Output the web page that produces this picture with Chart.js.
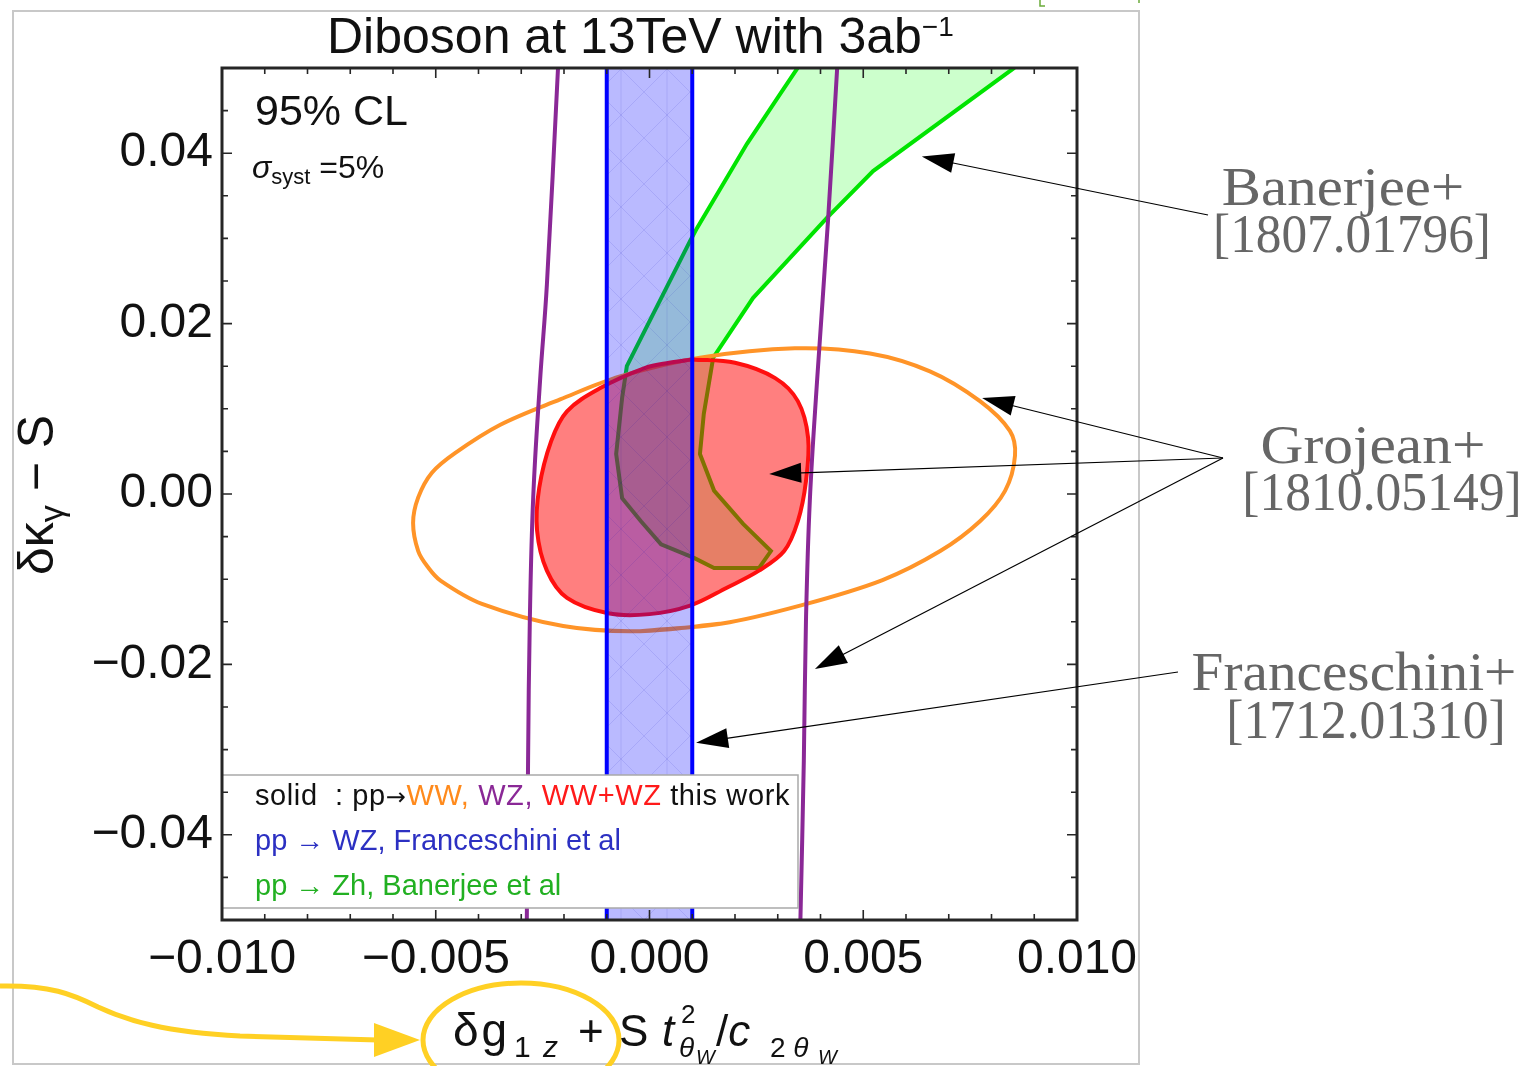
<!DOCTYPE html>
<html><head><meta charset="utf-8">
<script src="https://cdn.jsdelivr.net/npm/chart.js@4.4.1/dist/chart.umd.min.js"></script>
<style>
html,body{margin:0;padding:0;background:#fff;overflow:hidden}
#wrap{position:relative;width:1525px;height:1066px;overflow:hidden;background:#fff}
#c{position:absolute;left:0;top:0}
.t{position:absolute;white-space:nowrap;line-height:1;color:#111}
#frame{position:absolute;left:12px;top:10px;width:1124px;height:1051px;border:2px solid #c8c8c8}
svg{position:absolute;left:0;top:0}
</style></head><body>
<div id="wrap">
<div id="frame"></div>
<canvas id="c" width="1525" height="1066"></canvas>
<svg width="1525" height="1066">
  <path d="M1040,0 V6 H1045" fill="none" stroke="#6aaa3a" stroke-width="1.5"/>
  <path d="M1139,0 V3" fill="none" stroke="#6aaa3a" stroke-width="1.5"/>
  <path d="M0,986 C50,985 72,994 98,1007 C128,1021 165,1032 240,1036 L378,1040" fill="none" stroke="#ffd024" stroke-width="5"/>
  <polygon points="374,1023 374,1057 420,1040" fill="#ffd024"/>
  <ellipse cx="521" cy="1040" rx="98" ry="57" fill="none" stroke="#ffd024" stroke-width="5"/>
</svg>
</div>
<script>
// ---------- tick labels ----------
const xTickValues = [-0.010, -0.005, 0.000, 0.005, 0.010];
const xTickLabels = ['\u22120.010', '\u22120.005', '0.000', '0.005', '0.010'];
const yTickValues = [-0.04, -0.02, 0.00, 0.02, 0.04];
const yTickLabels = ['\u22120.04', '\u22120.02', '0.00', '0.02', '0.04'];

// ---------- pp -> WW (orange, this work) ----------
const wwX = [-0.00022, 0.00170, 0.00352, 0.00545, 0.00680, 0.00773, 0.00832, 0.00855, 0.00843, 0.00773, 0.00656, 0.00516, 0.00340, 0.00118, -0.00069, -0.00209, -0.00350, -0.00455, -0.00509, -0.00541, -0.00553, -0.00541, -0.00518, -0.00488, -0.00392, -0.00202];
const wwY = [-0.0161, -0.0152, -0.0131, -0.0101, -0.0067, -0.0032, 0.0004, 0.0045, 0.0074, 0.0109, 0.0144, 0.0165, 0.0171, 0.0160, 0.0138, 0.0111, 0.0081, 0.0048, 0.0025, -0.0004, -0.0034, -0.0067, -0.0086, -0.0102, -0.0129, -0.0155];

// ---------- pp -> WW+WZ (red, this work) ----------
const wwwzX = [0.00100, 0.00200, 0.00294, 0.00347, 0.00371, 0.00366, 0.00347, 0.00315, 0.00256, 0.00181, 0.00095, 0.00000, -0.00097, -0.00193, -0.00240, -0.00263, -0.00258, -0.00230, -0.00193, -0.00116, -0.00010, 0.00046];
const wwwzY = [0.0158, 0.0154, 0.0136, 0.0109, 0.0066, 0.0015, -0.0032, -0.0067, -0.0090, -0.0110, -0.0131, -0.0141, -0.0140, -0.0122, -0.0090, -0.0043, 0.0007, 0.0062, 0.0097, 0.0124, 0.0148, 0.0154];

// ---------- pp -> WZ (purple, this work): two boundary lines ----------
const wzLeftX  = [-0.00214, -0.00240, -0.00256, -0.00272, -0.00280, -0.00284, -0.00287];
const wzLeftY  = [0.0500, 0.0246, 0.0133, -0.0004, -0.0150, -0.0311, -0.0500];
const wzRightX = [0.00439, 0.00418, 0.00392, 0.00375, 0.00366, 0.00361, 0.00353];
const wzRightY = [0.0500, 0.0324, 0.0133, -0.0008, -0.0149, -0.0313, -0.0500];

// ---------- pp -> WZ, Franceschini et al (blue band) ----------
const francLow = -0.0010;
const francHigh = 0.0010;

// ---------- pp -> Zh, Banerjee et al (green region) ----------
const zhX = [0.00371, 0.00345, 0.00305, 0.00228, 0.00111, 0.00095, -0.00053, -0.00064, -0.00078, -0.00064, -0.00020, 0.00027, 0.00104, 0.00151, 0.00256, 0.00284, 0.00219, 0.00151, 0.00118, 0.00127, 0.00149, 0.00242, 0.00415, 0.00523, 0.00850, 0.00902];
const zhY = [0.0520, 0.0499, 0.0469, 0.0411, 0.0312, 0.0297, 0.0150, 0.0113, 0.0047, -0.0005, -0.0032, -0.0059, -0.0075, -0.0087, -0.0087, -0.0067, -0.0035, 0.0004, 0.0047, 0.0094, 0.0160, 0.0230, 0.0324, 0.0379, 0.0499, 0.0520];

const yMin = -0.05, yMax = 0.05, xMin = -0.01, xMax = 0.01;

function pts(xs, ys, close) {
  const p = xs.map((x, i) => ({x, y: ys[i]}));
  if (close) p.push({x: xs[0], y: ys[0]});
  return p;
}
// closed smooth loop: overlap the first segment so the seam gets proper tangents
function loopPts(xs, ys) {
  const p = xs.map((x, i) => ({x, y: ys[i]}));
  p.push({x: xs[0], y: ys[0]}, {x: xs[1], y: ys[1]});
  return p;
}

function bandPattern() {
  const c = document.createElement('canvas'); c.width = 46; c.height = 46;
  const g = c.getContext('2d');
  g.fillStyle = 'rgba(0,0,255,0.27)'; g.fillRect(0, 0, 46, 46);
  g.strokeStyle = 'rgba(0,0,190,0.10)'; g.lineWidth = 1;
  g.beginPath();
  g.moveTo(0, 0); g.lineTo(46, 46); g.moveTo(46, 0); g.lineTo(0, 46);
  g.moveTo(23, 0); g.lineTo(23, 46);
  g.stroke();
  return g.createPattern(c, 'repeat');
}

// arrow annotations: tip in data coordinates, tail in page pixels
const arrowTipsX = [0.00637, 0.00778, 0.00280, 0.00387, 0.00109];
const arrowTipsY = [0.0396, 0.01126, 0.00235, -0.02053, -0.0292];
const arrowTails = [[1208, 215], [1223, 458], [1223, 458], [1223, 458], [1178, 672]];

const framePlugin = {
  id: 'framePlugin',
  afterDatasetsDraw(chart) {
    const {ctx, chartArea: a, scales: {x, y}} = chart;
    ctx.save();
    // legend box
    ctx.fillStyle = '#ffffff';
    ctx.fillRect(a.left, 775, 798 - a.left, 133);
    ctx.strokeStyle = '#a9a9a9'; ctx.lineWidth = 1.5;
    ctx.strokeRect(a.left, 775, 798 - a.left, 133);
    // frame
    ctx.strokeStyle = '#262626'; ctx.lineWidth = 3;
    ctx.strokeRect(a.left, a.top, a.right - a.left, a.bottom - a.top);
    // ticks
    ctx.lineWidth = 1.6;
    ctx.beginPath();
    for (let i = -10; i <= 10; i++) {
      const px = x.getPixelForValue(i * 0.001);
      const len = (i % 5 === 0) ? 10 : 6;
      ctx.moveTo(px, a.bottom); ctx.lineTo(px, a.bottom - len);
      ctx.moveTo(px, a.top); ctx.lineTo(px, a.top + len);
    }
    for (let i = -10; i <= 10; i++) {
      const py = y.getPixelForValue(i * 0.005);
      const len = (i % 4 === 0) ? 10 : 6;
      ctx.moveTo(a.left, py); ctx.lineTo(a.left + len, py);
      ctx.moveTo(a.right, py); ctx.lineTo(a.right - len, py);
    }
    ctx.stroke();
    ctx.restore();
  },
  afterDraw(chart) {
    const {ctx, scales: {x, y}} = chart;
    ctx.save();
    ctx.strokeStyle = '#000'; ctx.fillStyle = '#000'; ctx.lineWidth = 1.2;
    arrowTipsX.forEach((tx, i) => {
      const px = x.getPixelForValue(tx), py = y.getPixelForValue(arrowTipsY[i]);
      const [sx, sy] = arrowTails[i];
      const dx = px - sx, dy = py - sy, L = Math.hypot(dx, dy);
      const ux = dx / L, uy = dy / L, nx = -uy, ny = ux;
      const hl = 32, hw = 10;
      ctx.beginPath(); ctx.moveTo(sx, sy); ctx.lineTo(px - ux * hl * 0.8, py - uy * hl * 0.8); ctx.stroke();
      ctx.beginPath();
      ctx.moveTo(px, py);
      ctx.lineTo(px - ux * hl + nx * hw, py - uy * hl + ny * hw);
      ctx.lineTo(px - ux * hl - nx * hw, py - uy * hl - ny * hw);
      ctx.closePath(); ctx.fill();
    });
    ctx.restore();
  }
};

const tickFont = {family: '"Liberation Sans", Arial, sans-serif', size: 48};

new Chart(document.getElementById('c'), {
  type: 'scatter',
  data: {
    datasets: [
      { label: 'pp→Zh, Banerjee et al', data: pts(zhX, zhY, true), showLine: true, order: 10,
        borderColor: 'rgb(0,228,0)', borderWidth: 4, backgroundColor: 'rgba(0,255,0,0.2)', fill: 'shape', tension: 0, pointRadius: 0 },
      { label: 'pp→WW', data: loopPts(wwX, wwY), showLine: true, order: 8,
        borderColor: 'rgb(255,148,40)', borderWidth: 4, fill: false, tension: 0.35, pointRadius: 0 },
      { label: 'pp→WW+WZ', data: pts(wwwzX, wwwzY, true), showLine: true, order: 6,
        borderColor: 'rgb(255,15,15)', borderWidth: 4, backgroundColor: 'rgba(255,0,0,0.5)', fill: 'shape', tension: 0.35, pointRadius: 0 },
      { label: 'pp→WZ, Franceschini et al (band)', data: [{x: francLow, y: yMin}, {x: francLow, y: yMax}, {x: francHigh, y: yMax}, {x: francHigh, y: yMin}, {x: francLow, y: yMin}],
        showLine: true, order: 5, borderWidth: 0, borderColor: 'rgba(0,0,0,0)', backgroundColor: bandPattern(), fill: 'shape', tension: 0, pointRadius: 0 },
      { label: 'band low', data: [{x: francLow, y: yMin}, {x: francLow, y: yMax}], showLine: true, order: 4,
        borderColor: 'rgb(0,0,255)', borderWidth: 4, fill: false, pointRadius: 0 },
      { label: 'band high', data: [{x: francHigh, y: yMin}, {x: francHigh, y: yMax}], showLine: true, order: 4,
        borderColor: 'rgb(0,0,255)', borderWidth: 4, fill: false, pointRadius: 0 },
      { label: 'pp→WZ left', data: pts(wzLeftX, wzLeftY, false), showLine: true, order: 2,
        borderColor: 'rgb(138,40,150)', borderWidth: 4, fill: false, tension: 0.4, pointRadius: 0 },
      { label: 'pp→WZ right', data: pts(wzRightX, wzRightY, false), showLine: true, order: 2,
        borderColor: 'rgb(138,40,150)', borderWidth: 4, fill: false, tension: 0.4, pointRadius: 0 }
    ]
  },
  options: {
    responsive: false, animation: false, devicePixelRatio: 1,
    layout: {padding: {left: 0, top: 68, right: 448, bottom: 0}},
    plugins: {legend: {display: false}, tooltip: {enabled: false}, title: {display: false}},
    elements: {point: {radius: 0, hoverRadius: 0}},
    events: [],
    scales: {
      x: {
        type: 'linear', position: 'bottom', min: xMin, max: xMax,
        grid: {display: false, drawTicks: false}, border: {display: false},
        afterBuildTicks: s => { s.ticks = xTickValues.map(v => ({value: v})); },
        afterFit: s => { s.height = 146; },
        ticks: {
          callback: v => { const i = xTickValues.findIndex(t => Math.abs(t - v) < 1e-9); return i >= 0 ? xTickLabels[i] : ''; },
          font: tickFont, color: '#111', padding: 11, maxRotation: 0, minRotation: 0, autoSkip: false
        }
      },
      y: {
        type: 'linear', position: 'left', min: yMin, max: yMax,
        grid: {display: false, drawTicks: false}, border: {display: false},
        afterBuildTicks: s => { s.ticks = yTickValues.map(v => ({value: v})); },
        afterFit: s => { s.width = 222; },
        ticks: {
          callback: v => { const i = yTickValues.findIndex(t => Math.abs(t - v) < 1e-9); return i >= 0 ? yTickLabels[i] : ''; },
          font: tickFont, color: '#111', padding: 9, autoSkip: false
        }
      }
    }
  },
  plugins: [framePlugin]
});

// ---------- text overlays (real text) ----------
const wrap = document.getElementById('wrap');
function place(html, x, base, size, opts) {
  opts = opts || {};
  const d = document.createElement('div');
  d.className = 't';
  const serif = !!opts.serif;
  d.style.fontFamily = serif ? '"Liberation Serif","Times New Roman",serif' : '"Liberation Sans",Arial,sans-serif';
  d.style.fontSize = size + 'px';
  d.style.top = (base - (serif ? 0.8375 : 0.8465) * size) + 'px';
  d.style.left = x + 'px';
  let tf = '';
  if (opts.center) tf += 'translateX(-50%) ';
  if (opts.sx) { tf += 'scaleX(' + opts.sx + ')'; d.style.transformOrigin = '50% 50%'; }
  if (tf) d.style.transform = tf;
  if (opts.color) d.style.color = opts.color;
  if (opts.italic) d.style.fontStyle = 'italic';
  if (opts.ls) d.style.letterSpacing = opts.ls + 'px';
  d.innerHTML = html;
  wrap.appendChild(d);
  return d;
}
const sup = (t, s, dy) => `<span style="font-size:${s}px;position:relative;top:${dy}px">${t}</span>`;
const arr = '<span style="font-family:\'DejaVu Sans\';font-size:24px">\u2192</span>';

// title
place('Diboson at 13TeV with 3ab' + sup('\u22121', 28, -17), 327, 53, 50);
// inner labels
place('95% CL', 255, 125, 43);
place('<i>\u03c3</i>' + sup('syst', 22, 6) + ' =5%', 252, 178, 32);
// legend text
place('solid&nbsp;&nbsp;: pp' + arr + '<span style="color:#ff8a1c">WW,</span> <span style="color:#8a2896">WZ,</span> <span style="color:#ff1a1a">WW+WZ</span> this work', 255, 806, 29, {ls: 0.6});
place('pp \u2192 WZ, Franceschini et al', 255, 851, 29, {color: '#2c30c2'});
place('pp \u2192 Zh, Banerjee et al', 255, 896, 29, {color: '#22b022'});
// y axis title (rotated)
(function () {
  const d = document.createElement('div');
  d.className = 't';
  d.style.fontFamily = '"Liberation Sans",Arial,sans-serif';
  d.style.fontSize = '50px';
  d.style.left = '36px'; d.style.top = '495px';
  d.style.transform = 'translate(-50%,-50%) rotate(-90deg)';
  d.innerHTML = '\u03b4\u03ba' + sup('\u03b3', 34, 10) + ' \u2212 S';
  wrap.appendChild(d);
})();
// x axis title
place('\u03b4g', 453, 1046, 46, {ls: 3});
place('1', 514, 1057, 30);
place('<i>z</i>', 543, 1057, 30);
place('+', 578, 1046, 44);
place('S', 619, 1046, 44);
place('<i>t</i>', 662, 1046, 44);
place('2', 681, 1023, 26);
place('<i>\u03b8</i>', 679, 1058, 28);
place('<i>W</i>', 696, 1064, 20);
place('/<i>c</i>', 716, 1046, 44);
place('2&nbsp;<i>\u03b8</i>', 770, 1058, 28);
place('<i>W</i>', 818, 1064, 20);
// right-hand annotations
const gray = '#666';
place('Banerjee+', 1343, 205, 54, {serif: true, center: true, color: gray, sx: 1.09});
place('[1807.01796]', 1352, 252, 54, {serif: true, center: true, color: gray, sx: 0.95});
place('Grojean+', 1373, 463, 54, {serif: true, center: true, color: gray, sx: 1.1});
place('[1810.05149]', 1382, 510, 54, {serif: true, center: true, color: gray, sx: 0.955});
place('Franceschini+', 1354, 690, 54, {serif: true, center: true, color: gray, sx: 1.06});
place('[1712.01310]', 1366, 738, 54, {serif: true, center: true, color: gray, sx: 0.955});
</script>
</body></html>
